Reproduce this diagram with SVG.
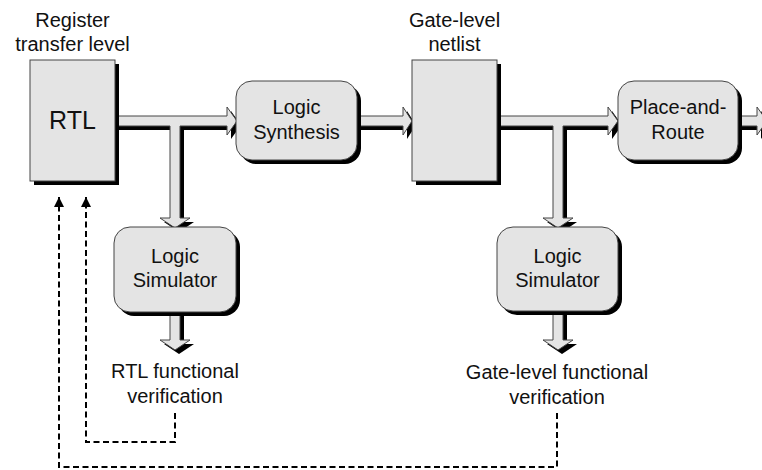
<svg xmlns="http://www.w3.org/2000/svg" width="762" height="470" viewBox="0 0 762 470">
<defs>
<style>
.box{fill:#e4e4e4;stroke:#444;stroke-width:1}
.shadow{fill:#000}
.arrow{fill:#e4e4e4;stroke:#444;stroke-width:1;stroke-linejoin:miter}
.dash{fill:none;stroke:#000;stroke-width:2;stroke-dasharray:6 3.5}
text{font-family:"Liberation Sans",Arial,sans-serif;font-size:20px;fill:#111;text-anchor:middle}
.big{font-size:25px}
</style>
<marker id="ah" viewBox="0 0 10 10" refX="10" refY="5" markerWidth="10" markerHeight="10" markerUnits="userSpaceOnUse" orient="auto">
<path d="M0,0 L10,5 L0,10 Z" fill="#000"/>
</marker>
</defs>

<g id="connectors">
  <!-- RTL -> Logic Synthesis with branch to Logic Simulator 1 -->
  <g id="arrow-rtl">
    <path class="shadow" transform="translate(4,4)" d="M115,116 H227 V107 L237,121 L227,135 V126 H180 V218 H190 L175,228 L160,218 H170 V126 H115 Z"/>
    <path class="arrow" d="M115,116 H227 V107 L237,121 L227,135 V126 H180 V218 H190 L175,228 L160,218 H170 V126 H115 Z"/>
  </g>
  <!-- Logic Synthesis -> netlist -->
  <g id="arrow-synth">
    <path class="shadow" transform="translate(4,4)" d="M357,116 H403 V107 L412,121 L403,135 V126 H357 Z"/>
    <path class="arrow" d="M357,116 H403 V107 L412,121 L403,135 V126 H357 Z"/>
  </g>
  <!-- netlist -> Place-and-Route with branch to Logic Simulator 2 -->
  <g id="arrow-netlist">
    <path class="shadow" transform="translate(4,4)" d="M497,116 H608 V107 L618,121 L608,135 V126 H563 V218 H573 L558,228 L543,218 H553 V126 H497 Z"/>
    <path class="arrow" d="M497,116 H608 V107 L618,121 L608,135 V126 H563 V218 H573 L558,228 L543,218 H553 V126 H497 Z"/>
  </g>
  <!-- Place-and-Route output -->
  <g id="arrow-pr">
    <path class="shadow" transform="translate(4,4)" d="M738,116 H757 V107 L767,121 L757,135 V126 H738 Z"/>
    <path class="arrow" d="M738,116 H757 V107 L767,121 L757,135 V126 H738 Z"/>
  </g>
  <!-- Logic Simulator outputs -->
  <g id="arrow-sim1">
    <path class="shadow" transform="translate(4,4)" d="M170,312 H180 V340 H190 L175,350 L160,340 H170 Z"/>
    <path class="arrow" d="M170,312 H180 V340 H190 L175,350 L160,340 H170 Z"/>
  </g>
  <g id="arrow-sim2">
    <path class="shadow" transform="translate(4,4)" d="M553,311 H563 V340 H573 L558,350 L543,340 H553 Z"/>
    <path class="arrow" d="M553,311 H563 V340 H573 L558,350 L543,340 H553 Z"/>
  </g>
  <!-- dashed feedback -->
  <path class="dash" d="M175,413 V442 H86 V197" marker-end="url(#ah)"/>
  <path class="dash" d="M557,413 V467 H59 V197" marker-end="url(#ah)"/>
</g>

<g id="rtl">
  <rect class="shadow" x="34" y="64" width="85" height="121"/>
  <rect class="box" x="30" y="60" width="85" height="121"/>
  <text class="big" x="72.5" y="129">RTL</text>
  <text x="72.5" y="27">Register</text>
  <text x="72.5" y="51">transfer level</text>
</g>

<g id="logic-synthesis">
  <rect class="shadow" x="240" y="85" width="121" height="79" rx="16"/>
  <rect class="box" x="236" y="81" width="121" height="79" rx="16"/>
  <text x="296.5" y="114">Logic</text>
  <text x="296.5" y="139">Synthesis</text>
</g>

<g id="netlist">
  <rect class="shadow" x="416" y="64" width="85" height="121"/>
  <rect class="box" x="412" y="60" width="85" height="121"/>
  <text x="454.5" y="27">Gate-level</text>
  <text x="454.5" y="51">netlist</text>
</g>

<g id="place-and-route">
  <rect class="shadow" x="622" y="85" width="120" height="79" rx="16"/>
  <rect class="box" x="618" y="81" width="120" height="79" rx="16"/>
  <text x="678" y="114">Place-and-</text>
  <text x="678" y="139">Route</text>
</g>

<g id="logic-simulator-1">
  <rect class="shadow" x="118" y="231" width="122" height="85" rx="16"/>
  <rect class="box" x="114" y="227" width="122" height="85" rx="16"/>
  <text x="175" y="263">Logic</text>
  <text x="175" y="287">Simulator</text>
</g>

<g id="logic-simulator-2">
  <rect class="shadow" x="501" y="231" width="121" height="84" rx="16"/>
  <rect class="box" x="497" y="227" width="121" height="84" rx="16"/>
  <text x="557.5" y="263">Logic</text>
  <text x="557.5" y="287">Simulator</text>
</g>

<g id="rtl-verification">
  <text x="175" y="378">RTL functional</text>
  <text x="175" y="403">verification</text>
</g>

<g id="gate-verification">
  <text x="557" y="379">Gate-level functional</text>
  <text x="557" y="404">verification</text>
</g>
</svg>
